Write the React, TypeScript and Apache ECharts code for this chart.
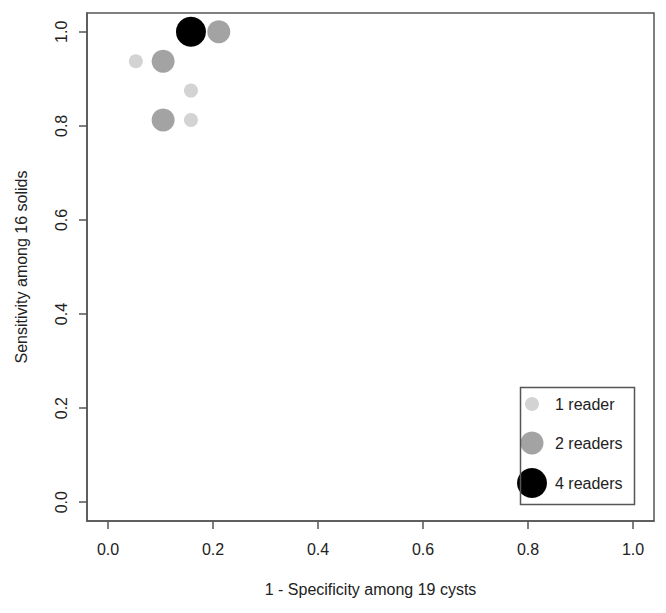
import React, { useEffect, useRef } from "react";
import * as echarts from "echarts";

const tickValues = [0, 0.2, 0.4, 0.6, 0.8, 1.0];
const oneReader = [
  [0.053, 0.9375],
  [0.158, 0.875],
  [0.158, 0.8125],
];
const twoReaders = [
  [0.105, 0.9375],
  [0.211, 1.0],
  [0.105, 0.8125],
];
const fourReaders = [[0.158, 1.0]];
const seriesNames = ["1 reader", "2 readers", "4 readers"];
const xTitle = "1 - Specificity among 19 cysts";
const yTitle = "Sensitivity among 16 solids";

const FONT = "Liberation Sans, Arial, sans-serif";
const TEXT = "#222";
const LINE = "#555";
const colors = ["#d3d3d3", "#a3a3a3", "#000000"];
const sizes = [14, 23, 30];

export default function App() {
  const ref = useRef<HTMLDivElement>(null);
  useEffect(() => {
    if (!ref.current) return;
    const chart = echarts.init(ref.current, null, { renderer: "svg" });
    const axisCommon = {
      type: "value" as const,
      min: -0.04,
      max: 1.04,
      axisLine: { show: true, onZero: false, lineStyle: { color: LINE, width: 1.5 } },
      axisTick: {
        show: true,
        length: 8,
        customValues: tickValues,
        lineStyle: { color: LINE, width: 1.5 },
      },
      splitLine: { show: false },
      nameLocation: "middle" as const,
      nameTextStyle: { fontFamily: FONT, fontSize: 16, color: TEXT },
    };
    const legendItem = (i: number, top: number) => ({
      show: true,
      data: [seriesNames[i]],
      selectedMode: false,
      orient: "vertical" as const,
      left: 532 - sizes[i] / 2,
      top: top - sizes[i] / 2,
      padding: 0,
      itemWidth: sizes[i],
      itemHeight: sizes[i],
      icon: "circle",
      itemGap: 0,
      textStyle: {
        fontFamily: FONT,
        fontSize: 16,
        color: TEXT,
        padding: [0, 0, 0, 555 - (532 + sizes[i] / 2 + 5)],
      },
    });
    chart.setOption({
      animation: false,
      backgroundColor: "#fff",
      grid: {
        left: 87,
        top: 13,
        right: 12,
        bottom: 92,
        show: true,
        borderColor: LINE,
        borderWidth: 1.5,
        containLabel: false,
      },
      xAxis: {
        ...axisCommon,
        name: xTitle,
        nameGap: 60,
        axisLabel: {
          customValues: tickValues,
          formatter: (v: number) => v.toFixed(1),
          fontFamily: FONT,
          fontSize: 16,
          color: TEXT,
          margin: 20,
        },
      },
      yAxis: {
        ...axisCommon,
        name: yTitle,
        nameGap: 58,
        nameRotate: 90,
        axisLabel: {
          customValues: tickValues,
          formatter: (v: number) => v.toFixed(1),
          fontFamily: FONT,
          fontSize: 16,
          color: TEXT,
          rotate: 90,
          margin: 18,
        },
      },
      legend: [legendItem(0, 403), legendItem(1, 443), legendItem(2, 483)],
      graphic: [
        {
          type: "rect",
          left: 518,
          top: 385,
          shape: { width: 114, height: 117 },
          style: { fill: "none", stroke: LINE, lineWidth: 1.5 },
          z: 10,
        },
      ],
      series: [oneReader, twoReaders, fourReaders].map((d, i) => ({
        type: "scatter",
        name: seriesNames[i],
        data: d,
        symbol: "circle",
        symbolSize: sizes[i],
        itemStyle: { color: colors[i], opacity: 1 },
        emphasis: { disabled: true },
      })),
    });
    return () => chart.dispose();
  }, []);
  return (
    <div
      ref={ref}
      style={{ position: "fixed", left: 0, top: 0, width: 666, height: 613 }}
    />
  );
}
